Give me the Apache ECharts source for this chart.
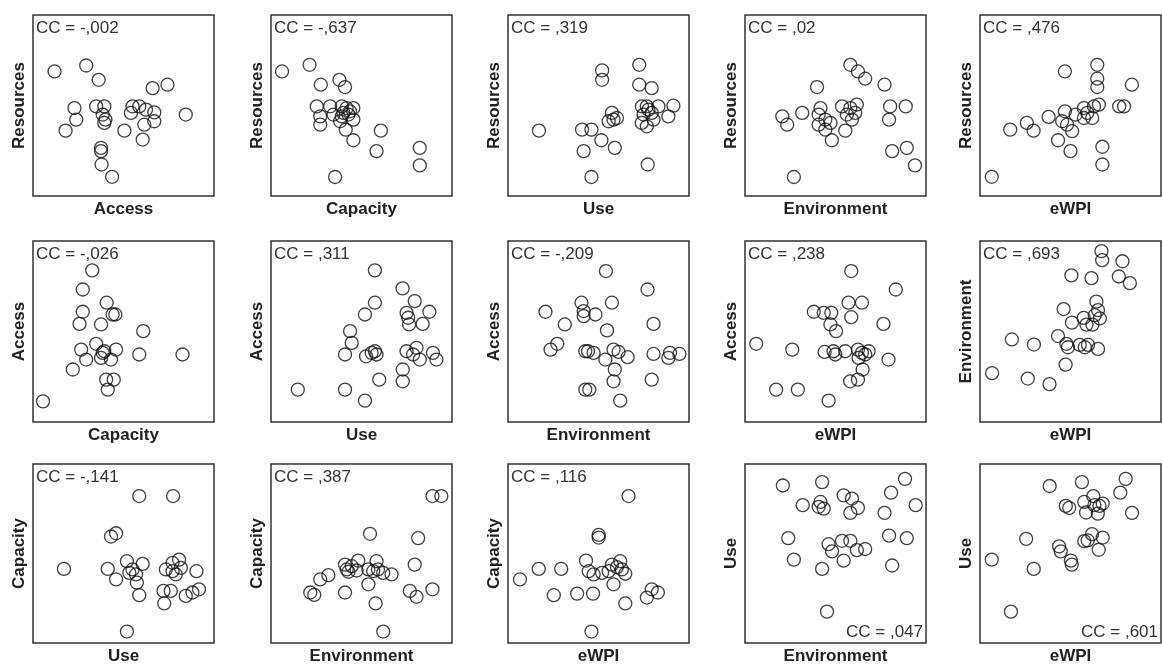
<!DOCTYPE html>
<html>
<head>
<meta charset="utf-8">
<title>Scatter matrix</title>
<script src="https://cdn.jsdelivr.net/npm/echarts@6/dist/echarts.min.js"></script>
<style>
  html, body { margin: 0; padding: 0; background: #fff; }
  #chart { width: 1162px; height: 666px; }
</style>
</head>
<body>
<div id="chart"></div>
<script>
// values on a 0-100 scale inside each box
var resAccess = [[11.9,68.8],[29.4,72.1],[36.3,64.2],[66.1,59.6],[74.3,61.5],[22.9,48.6],[23.9,42.2],[18.0,36.1],[34.9,49.5],[39.4,49.5],[38.5,45.0],[40.0,42.2],[39.4,40.4],[50.5,36.1],[55.0,49.5],[58.7,49.5],[54.1,45.9],[67.0,46.2],[67.0,41.3],[61.5,39.4],[60.6,31.2],[84.4,45.0],[37.6,26.6],[37.6,24.8],[37.9,17.4],[43.7,10.6],[62.4,47.7]];
var resCapacity = [[6.1,68.8],[21.3,72.5],[27.5,61.5],[37.8,64.2],[40.9,60.2],[25.3,49.5],[27.2,44.0],[27.2,39.4],[32.7,49.5],[34.5,45.0],[39.1,49.5],[41.8,48.6],[45.5,48.6],[40.0,45.9],[42.8,45.0],[38.2,41.3],[45.5,42.2],[41.3,36.7],[45.5,30.8],[60.7,36.1],[58.3,24.8],[82.2,26.6],[82.2,16.9],[35.4,10.5],[39.1,44.0],[43.6,46.8]];
var resUse = [[17.1,36.1],[40.9,36.7],[46.1,36.7],[52.0,69.4],[52.0,64.2],[57.4,45.9],[55.6,41.3],[58.3,42.2],[60.2,43.1],[51.6,30.8],[59.0,26.6],[41.8,24.8],[46.1,10.5],[72.5,72.5],[72.5,61.5],[79.4,59.6],[74.0,49.5],[76.7,49.5],[83.1,49.5],[91.4,49.9],[88.6,44.0],[74.9,45.0],[79.4,45.9],[80.4,42.2],[73.9,40.4],[76.7,38.5],[77.2,17.4],[77.6,47.7]];
var resEnv = [[58.2,72.5],[62.4,68.8],[66.4,64.8],[77.1,61.5],[39.8,60.2],[20.6,44.0],[23.3,39.4],[31.6,45.9],[41.7,48.6],[40.7,45.0],[44.4,42.2],[40.7,39.4],[44.4,36.7],[48.0,30.8],[53.6,49.5],[58.2,48.6],[61.8,50.5],[56.3,45.0],[59.1,42.2],[55.4,36.1],[80.2,49.5],[88.8,49.5],[79.6,42.2],[81.3,24.8],[89.4,26.6],[93.9,16.9],[27.0,10.5],[47.2,40.4],[60.9,45.9]];
var resEwpi = [[6.5,10.6],[16.7,36.7],[25.9,40.4],[29.6,36.1],[37.9,43.7],[46.9,68.8],[46.9,46.8],[45.4,41.3],[48.1,39.4],[50.9,35.8],[43.1,30.8],[50.0,24.8],[64.8,72.5],[64.8,64.8],[64.8,60.2],[83.9,61.5],[57.4,48.6],[59.3,45.9],[63.0,49.5],[65.7,50.5],[62.0,43.1],[57.4,43.1],[76.9,49.5],[79.6,49.5],[67.6,27.2],[67.6,17.4],[52.8,45.0]];
var accCapacity = [[5.5,11.4],[22.0,29.0],[29.4,34.5],[26.6,40.0],[34.9,43.2],[39.4,39.1],[37.6,35.4],[43.1,34.5],[45.9,40.0],[40.4,23.4],[44.6,23.4],[41.3,17.9],[32.7,83.8],[27.5,73.2],[27.5,60.9],[25.7,54.2],[37.6,53.9],[40.7,65.9],[44.0,59.4],[45.5,59.4],[60.9,50.2],[58.7,37.3],[82.6,37.3],[38.5,38.2]];
var accUse = [[14.8,17.9],[40.9,17.9],[51.9,11.8],[59.8,23.4],[72.8,29.0],[72.8,22.5],[57.4,83.8],[72.7,73.8],[79.4,66.8],[57.4,65.9],[51.9,59.4],[74.9,60.3],[75.8,57.6],[76.3,53.9],[83.8,54.2],[87.5,60.9],[43.7,50.2],[44.6,43.7],[40.9,37.3],[52.5,36.3],[57.4,39.1],[58.3,37.3],[74.9,39.1],[80.4,41.0],[78.5,37.3],[82.2,34.5],[89.5,38.2],[91.4,34.5],[55.6,38.2]];
var accEnv = [[54.1,83.4],[77.1,73.2],[20.7,60.9],[31.4,53.9],[40.6,65.9],[41.8,61.3],[41.8,58.5],[48.3,59.4],[57.4,65.9],[54.7,50.6],[80.4,54.2],[23.5,40.0],[27.2,43.2],[42.7,39.1],[44.2,39.1],[47.3,38.2],[58.3,40.0],[61.1,38.7],[66.1,35.8],[53.8,34.5],[59.0,29.0],[58.3,22.5],[80.4,37.6],[88.6,35.4],[89.5,38.2],[94.7,37.6],[79.4,23.4],[42.7,17.9],[44.9,17.9],[62.0,11.8]];
var accEwpi = [[6.2,43.2],[26.1,40.0],[17.2,17.9],[29.2,17.9],[46.2,11.8],[58.1,22.5],[62.4,23.4],[65.0,29.0],[58.7,83.4],[83.3,73.2],[57.2,65.9],[64.6,65.9],[58.7,57.9],[38.0,60.9],[43.5,60.3],[47.7,60.3],[47.2,53.9],[50.3,50.2],[76.5,54.2],[44.0,38.7],[48.9,39.1],[49.9,37.3],[55.4,39.1],[62.4,40.0],[64.6,38.2],[66.4,37.3],[62.8,35.4],[79.3,34.5],[68.3,39.1]];
var envEwpi = [[6.7,27.0],[26.4,24.0],[38.4,20.9],[17.6,45.6],[29.8,42.8],[47.3,31.7],[43.1,47.5],[48.6,41.3],[47.7,43.2],[55.1,42.6],[57.9,41.3],[59.7,42.6],[65.2,40.4],[46.2,62.4],[50.8,54.9],[57.3,57.5],[58.8,53.8],[63.4,59.0],[64.3,66.5],[65.2,61.8],[62.1,53.8],[67.1,94.4],[67.5,89.4],[78.7,88.8],[76.7,80.4],[82.8,76.7],[50.5,81.0],[61.6,79.5],[66.2,57.2]];
var capUse = [[17.1,41.4],[58.7,82.1],[77.4,82.1],[43.1,59.5],[45.9,61.3],[41.3,41.4],[45.9,35.5],[51.9,45.7],[53.2,39.2],[55.0,41.1],[60.6,44.2],[57.4,33.7],[58.7,26.7],[51.9,6.4],[77.1,44.8],[80.7,46.6],[73.4,41.1],[77.1,40.1],[81.7,42.0],[90.3,40.1],[72.1,29.1],[76.1,29.1],[72.5,22.1],[84.4,26.3],[88.1,28.2],[91.7,30.0],[78.9,38.3],[56.9,38.3]];
var capEnv = [[89.2,82.1],[94.1,82.1],[54.7,61.0],[81.3,58.6],[79.4,43.8],[21.7,28.2],[23.9,26.9],[27.2,35.5],[31.7,37.9],[40.9,43.8],[41.8,41.1],[44.6,42.9],[47.3,40.5],[48.2,46.0],[53.8,41.1],[56.5,40.1],[58.3,45.7],[62.0,39.2],[66.6,38.3],[53.8,32.8],[40.9,28.2],[57.8,22.1],[62.0,6.4],[76.7,29.1],[80.4,25.8],[89.2,30.0],[42.8,39.8],[59.1,41.1]];
var capEwpi = [[6.6,35.5],[17.0,41.4],[29.4,41.4],[25.3,26.7],[38.2,27.6],[47.0,27.6],[46.1,6.4],[43.1,46.0],[44.6,40.1],[47.3,38.3],[50.1,60.4],[50.1,58.9],[58.3,32.8],[57.4,43.8],[55.6,40.1],[62.0,45.7],[62.9,41.1],[64.8,38.7],[60.2,42.4],[66.6,82.1],[64.8,22.1],[76.7,25.4],[79.4,30.0],[82.8,28.2],[52.0,39.2]];
var useEnv = [[20.9,88.0],[42.6,89.9],[88.4,91.7],[80.7,84.0],[94.3,77.0],[31.9,77.0],[41.7,78.8],[40.7,76.1],[43.5,75.1],[54.5,82.5],[59.1,80.7],[62.4,75.5],[58.2,72.7],[77.1,72.7],[23.9,58.6],[27.0,46.6],[42.6,41.4],[46.2,55.2],[48.1,51.2],[53.6,57.1],[58.2,57.1],[54.5,46.0],[61.8,51.9],[66.4,52.5],[79.6,60.0],[89.4,58.6],[81.3,43.3],[45.3,17.5]];
var useEwpi = [[6.5,46.6],[17.1,17.5],[25.5,58.2],[29.7,41.4],[38.5,87.7],[56.3,89.9],[80.5,91.7],[77.5,84.0],[84.0,72.7],[47.4,76.6],[49.3,75.5],[57.6,78.8],[58.6,72.9],[62.6,82.1],[63.2,77.0],[67.8,77.9],[65.1,72.3],[66.0,76.6],[43.7,54.0],[44.6,51.2],[50.2,46.0],[50.7,43.8],[57.6,56.9],[61.9,60.8],[67.8,58.9],[65.6,52.1],[59.5,57.3]];

var panels = [resAccess, resCapacity, resUse, resEnv, resEwpi,
              accCapacity, accUse, accEnv, accEwpi, envEwpi,
              capUse, capEnv, capEwpi, useEnv, useEwpi];
var xNames = ['Access', 'Capacity', 'Use', 'Environment', 'eWPI',
              'Capacity', 'Use', 'Environment', 'eWPI', 'eWPI',
              'Use', 'Environment', 'eWPI', 'Environment', 'eWPI'];
var yNames = ['Resources', 'Resources', 'Resources', 'Resources', 'Resources',
              'Access', 'Access', 'Access', 'Access', 'Environment',
              'Capacity', 'Capacity', 'Capacity', 'Use', 'Use'];
var ccLabels = ['CC = -,002', 'CC = -,637', 'CC = ,319', 'CC = ,02', 'CC = ,476',
                'CC = -,026', 'CC = ,311', 'CC = -,209', 'CC = ,238', 'CC = ,693',
                'CC = -,141', 'CC = ,387', 'CC = ,116', 'CC = ,047', 'CC = ,601'];

var colLeft = [33, 271, 508, 745, 980];
var rowTop = [15, 241, 464];
var boxSize = 181;
var W = 1162, H = 666;
var font = '"Liberation Sans", Arial, Helvetica, sans-serif';

var grids = [], xAxes = [], yAxes = [], series = [], titles = [];

panels.forEach(function (data, i) {
    var r = Math.floor(i / 5), c = i % 5;
    var left = colLeft[c], top = rowTop[r];
    grids.push({
        left: left, top: top, width: boxSize, height: boxSize,
        show: true, borderColor: '#333', borderWidth: 1.5,
        backgroundColor: '#fff'
    });
    var hidden = {
        axisLine: { show: false }, axisTick: { show: false },
        axisLabel: { show: false }, splitLine: { show: false }
    };
    xAxes.push(Object.assign({
        type: 'value', gridIndex: i, min: 0, max: 100,
        name: xNames[i], nameLocation: 'middle', nameGap: 5,
        nameTextStyle: { fontFamily: font, fontSize: 17, fontWeight: 'bold', color: '#222' }
    }, hidden));
    yAxes.push(Object.assign({
        type: 'value', gridIndex: i, min: 0, max: 100,
        name: yNames[i], nameLocation: 'middle', nameGap: 5,
        nameTextStyle: { fontFamily: font, fontSize: 17, fontWeight: 'bold', color: '#222' }
    }, hidden));
    series.push({
        type: 'scatter', xAxisIndex: i, yAxisIndex: i,
        data: data, symbol: 'circle', symbolSize: 13, silent: true,
        itemStyle: { color: 'rgba(0,0,0,0)', borderColor: '#111', borderWidth: 1.3 }
    });
    var t = {
        text: ccLabels[i], padding: 0,
        textStyle: { fontFamily: font, fontSize: 17, fontWeight: 'normal', color: '#333' }
    };
    if (i >= 13) {
        t.right = W - (left + boxSize) + 3;
        t.bottom = H - (top + boxSize) + 4;
    } else {
        t.left = left + 3;
        t.top = top + 5;
    }
    titles.push(t);
});

var chart = echarts.init(document.getElementById('chart'));
chart.setOption({
    animation: false,
    title: titles,
    grid: grids,
    xAxis: xAxes,
    yAxis: yAxes,
    series: series
});
</script>
</body>
</html>
